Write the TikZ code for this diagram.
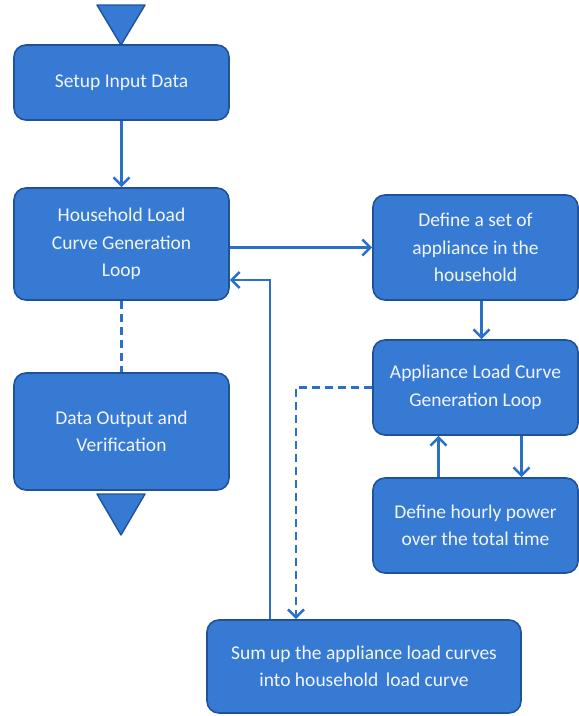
\documentclass[tikz,border=0pt]{standalone}
\usepackage{fontspec}
\setmainfont{Carlito}
\usepackage{tikz}
\usetikzlibrary{arrows.meta,positioning,calc}
\definecolor{boxfill}{RGB}{55,122,212}
\definecolor{boxline}{RGB}{32,82,152}
\definecolor{wire}{RGB}{42,112,200}
\definecolor{boxtext}{RGB}{242,246,252}

\begin{document}
\begin{tikzpicture}[
  x=1pt, y=-1pt,
  font=\fontsize{19.5}{27.5}\selectfont,
  proc/.style={draw=boxline, line width=1.6pt, rounded corners=12pt, fill=boxfill,
    text=boxtext, align=center, inner sep=0pt},
  term/.style={draw=boxline, line width=1.4pt, fill=boxfill, line join=round},
  arr/.style={-{Straight Barb[length=8pt, width=16pt, line width=2.6pt]}, wire, line width=2.6pt},
  wire/.style={draw=wire, line width=2.6pt}
]
\useasboundingbox (0,0) rectangle (579,716);
% start and end markers
\filldraw[term] (97,5) -- (145,5) -- (121,45) -- cycle;
\filldraw[term] (97,494) -- (145,494) -- (121,535) -- cycle;
% main column
\node[proc, minimum width=215pt, minimum height=75pt] (setup) at (121.5,82.5) {Setup Input Data};
\node[proc, minimum width=215pt, minimum height=112pt] (hhloop) at (121.5,244) {Household Load\\Curve Generation\\Loop};
\node[proc, minimum width=215pt, minimum height=117pt] (output) at (121.5,431.5) {Data Output and\\Verification};
% appliance side
\node[proc, minimum width=205pt, minimum height=105pt] (appset) at (475.5,247.5) {Define a set of\\appliance in the\\household};
\node[proc, minimum width=205pt, minimum height=95pt] (aploop) at (475.5,387.5) {Appliance Load Curve\\Generation Loop};
\node[proc, minimum width=205pt, minimum height=95pt] (hourly) at (475.5,525.5) {Define hourly power\\over the total time};
\node[proc, minimum width=314pt, minimum height=93pt] (sumup) at (364,666.5) {Sum up the appliance load curves\\into household\, load curve};
% connectors
\draw[arr] (setup) -- (hhloop);
\draw[wire, dashed, dash pattern=on 8pt off 5pt] (hhloop) -- (output);
\draw[arr] (hhloop.east |- appset) -- (appset);
\draw[arr] ([xshift=6pt]appset.south) -- ([xshift=6pt]aploop.north);
\draw[arr] ([xshift=46pt]aploop.south) -- ([xshift=46pt]hourly.north);
\draw[arr] ([xshift=-37pt]hourly.north) -- ([xshift=-37pt]aploop.south);
\draw[arr, dash pattern=on 8pt off 5pt] (aploop.west) -| ([xshift=-68pt]sumup.north);
\draw[arr] ([xshift=-94pt]sumup.north) |- ([yshift=-36pt]hhloop.east);
\end{tikzpicture}
\end{document}
